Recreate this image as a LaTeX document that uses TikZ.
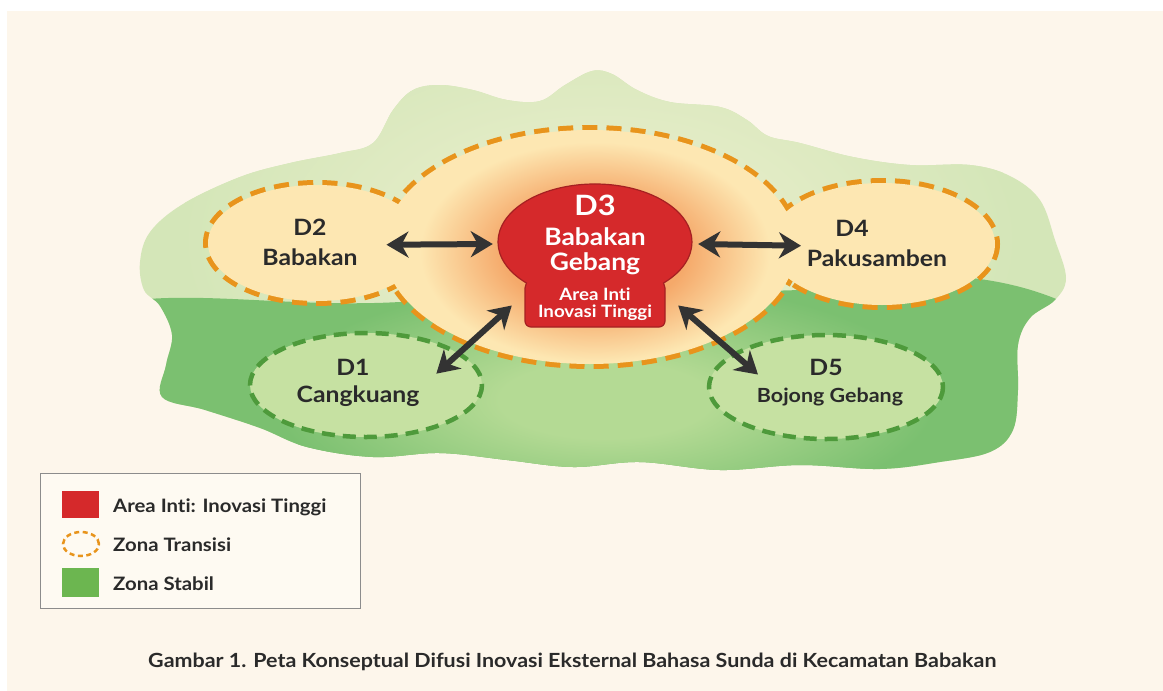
\documentclass[tikz,border=0pt]{standalone}
\usepackage{fontspec}
\setmainfont{Lato}[FakeStretch=1.1, Ligatures=NoCommon]
\usetikzlibrary{arrows.meta,shapes.geometric}
\definecolor{PaperCream}{HTML}{FDF6EB}
\definecolor{GreenPale}{HTML}{D4E6B8}
\definecolor{GreenHaze}{HTML}{EEF0D0}
\definecolor{GreenDeep}{HTML}{7BC070}
\definecolor{GreenMid}{HTML}{B4DA94}
\definecolor{GreenSoft}{HTML}{C6E1A2}
\definecolor{GreenDash}{HTML}{4E9A3B}
\definecolor{GreenLegend}{HTML}{6CB650}
\definecolor{ZoneYellow}{HTML}{FDE7B2}
\definecolor{GlowOrange}{HTML}{F5A96A}
\definecolor{OrangeDash}{HTML}{E8941C}
\definecolor{CoreRed}{HTML}{D5292B}
\definecolor{CoreRedLine}{HTML}{A52022}
\definecolor{ArrowGray}{HTML}{333333}
\definecolor{InkGray}{HTML}{2A2A2A}
\definecolor{LegendLine}{HTML}{8C8C8C}
\definecolor{LegendFill}{HTML}{FEFAF2}
\pgfdeclareradialshading{uppersoft}{\pgfpoint{0bp}{0bp}}{color(0bp)=(GreenHaze); color(25bp)=(GreenPale); color(50bp)=(GreenPale)}
\pgfdeclareradialshading{stablecore}{\pgfpoint{0bp}{0bp}}{color(0bp)=(GreenMid); color(8bp)=(GreenMid); color(25bp)=(GreenDeep); color(50bp)=(GreenDeep)}
\pgfdeclareradialshading{coreglow}{\pgfpoint{0bp}{0bp}}{color(0bp)=(GlowOrange); color(13bp)=(GlowOrange); color(25bp)=(ZoneYellow); color(50bp)=(ZoneYellow)}
% outline of the whole district area
\newcommand\blobpath{plot[smooth cycle, tension=0.6] coordinates {(393,110) (413,90) (440,85) (473,90) (507,100) (540,101) (565,85) (592,71) (612,74) (637,90) (670,102) (720,107) (747,120) (768,136) (800,143) (853,157) (910,165) (970,165) (1010,176) (1040,200) (1055,240) (1066,278) (1055,300) (1030,318) (1018,345) (1018,390) (1013,430) (990,452) (940,462) (880,469) (800,465) (720,470) (640,462) (573,467) (507,460) (440,453) (373,457) (307,447) (260,428) (205,410) (162,397) (166,365) (172,335) (160,306) (144,290) (140,262) (150,232) (183,204) (240,177) (290,163) (340,153) (373,143)}}

\begin{document}
\begin{tikzpicture}[x=1pt,y=1pt,yscale=-1,xscale=1,
    zonelabel/.style={text=InkGray, font=\bfseries\fontsize{22.5}{26}\selectfont, anchor=base, inner sep=0.75pt},
    coretext/.style={text=white, anchor=base, inner sep=0.75pt},
    legendtext/.style={text=InkGray, font=\bfseries\fontsize{18.5}{22}\selectfont, anchor=base west, inner sep=0pt},
    flowarrow/.style={draw=ArrowGray, line width=6pt, {Stealth[length=22pt,width=26pt,inset=7pt]}-{Stealth[length=22pt,width=26pt,inset=7pt]}},
    transdash/.style={draw=OrangeDash, line width=10pt, dash pattern=on 15pt off 9pt},
    stabledash/.style={draw=GreenDash, line width=4.5pt, dash pattern=on 13pt off 8pt}]
		\useasboundingbox (0,0) rectangle (1163,691);

		% Page and cream panel
		\fill[white] (0,0) rectangle (1163,691);
		\fill[PaperCream] (7,11) rectangle (1163,691);

		% Green district area, light upper half and deep stable lower half
		\fill[GreenPale] \blobpath;
		\begin{scope}
			\clip \blobpath;
			\shade[shading=uppersoft] (600,240) ellipse (420 and 240);
			\fill[GreenDeep] (120,302) .. controls (200,290) and (290,308) .. (400,302) -- (800,290) .. controls (900,268) and (1000,268) .. (1080,310) -- (1080,490) -- (120,490) -- cycle;
			\shade[shading=stablecore] (605,400) ellipse (330 and 120);
		\end{scope}

		% Stable zones D1 and D5
		\fill[GreenSoft] (366,385) ellipse (116 and 52);
		\draw[stabledash] (366,385) ellipse (116 and 52);
		\fill[GreenSoft] (826,387) ellipse (117 and 52);
		\draw[stabledash] (826,387) ellipse (117 and 52);

		% Transition zone: union of D2, core and D4 (outer half of the dashes stays visible)
		\draw[transdash] (317,243) ellipse (109 and 58);
		\draw[transdash] (882,244) ellipse (113 and 61);
		\draw[transdash] (590,247) ellipse (206 and 117);
		\fill[ZoneYellow] (317,243) ellipse (109 and 58) (882,244) ellipse (113 and 61) (590,247) ellipse (206 and 117);
		\shade[shading=coreglow] (595,252) ellipse (175 and 110);

		% Core area D3
		\filldraw[fill=CoreRed, draw=CoreRedLine, line width=1.2pt]
		(526.4,283) arc[start angle=135, end angle=405, x radius=97, y radius=58]
		-- (665,288) [rounded corners=6pt] -- (665,327) -- (525,327) [sharp corners] -- (525,288) -- cycle;
		\node[ellipse, minimum width=194pt, minimum height=116pt, inner sep=0pt] (d3) at (595,242) {};
		\node[rectangle, minimum width=140pt, minimum height=57pt, inner sep=0pt] (d3base) at (595,298.5) {};
		\node[coretext, font=\bfseries\fontsize{28}{30}\selectfont] (d3id) at (595,215) {D3};
		\node[coretext, font=\bfseries\fontsize{24}{26}\selectfont] (d3name) at (595,245) {Babakan};
		\node[coretext, font=\bfseries\fontsize{24}{26}\selectfont] (d3name2) at (595,270) {Gebang};
		\node[coretext, font=\bfseries\fontsize{17}{19}\selectfont] (d3tag) at (595,300) {Area Inti};
		\node[coretext, font=\bfseries\fontsize{17}{19}\selectfont] (d3tag2) at (595,317) {Inovasi Tinggi};

		% Village labels
		\node[zonelabel] (d2id) at (310,235) {D2};
		\node[zonelabel] (d2name) at (310,265) {Babakan};
		\node[zonelabel] (d4id) at (852,236) {D4};
		\node[zonelabel] (d4name) at (877,266) {Pakusamben};
		\node[zonelabel] (d1id) at (353,375) {D1};
		\node[zonelabel] (d1name) at (358,402) {Cangkuang};
		\node[zonelabel] (d5id) at (826,375) {D5};
		\node[zonelabel, font=\bfseries\fontsize{19.5}{22}\selectfont] (d5name) at (830,402) {Bojong Gebang};

		% Diffusion arrows between the core and the villages
		\draw[flowarrow] ([xshift=28pt,yshift=-12pt]d2name.east) -- ([shift={(-5,2)}]d3.west);
		\draw[flowarrow] ([shift={(6,2)}]d3.east) -- ([xshift=-5pt,yshift=-12pt]d4name.west);
		\draw[flowarrow] ([shift={(16,-22)}]d1name.east) -- ([shift={(-13,7)}]d3base.west);
		\draw[flowarrow] ([shift={(13,7)}]d3base.east) -- ([shift={(2,-22)}]d5name.west);

		% Legend
		\node[draw=LegendLine, line width=1.3pt, fill=LegendFill, minimum width=320pt, minimum height=135pt, anchor=north west, inner sep=0pt] (legend) at (40,473) {};
		\node[fill=CoreRed, minimum width=37pt, minimum height=27pt, inner sep=0pt] (keycore) at (80.5,504.5) {};
		\node[ellipse, draw=OrangeDash, line width=2.5pt, dash pattern=on 5pt off 3.5pt, minimum width=36pt, minimum height=24pt, inner sep=0pt] (keytrans) at (81,544) {};
		\node[fill=GreenLegend, minimum width=37pt, minimum height=29pt, inner sep=0pt] (keystable) at (80.5,582.5) {};
		\node[legendtext] (keycoretext) at (113,512) {Area Inti: Inovasi Tinggi};
		\node[legendtext] (keytranstext) at (113,551) {Zona Transisi};
		\node[legendtext] (keystabletext) at (113,590) {Zona Stabil};

		% Caption
		\node[anchor=base west, text=InkGray, font=\bfseries\fontsize{19.5}{22}\selectfont, inner sep=0pt] (caption) at (148,667) {Gambar 1. Peta Konseptual Difusi Inovasi Eksternal Bahasa Sunda di Kecamatan Babakan};
\end{tikzpicture}
\end{document}
